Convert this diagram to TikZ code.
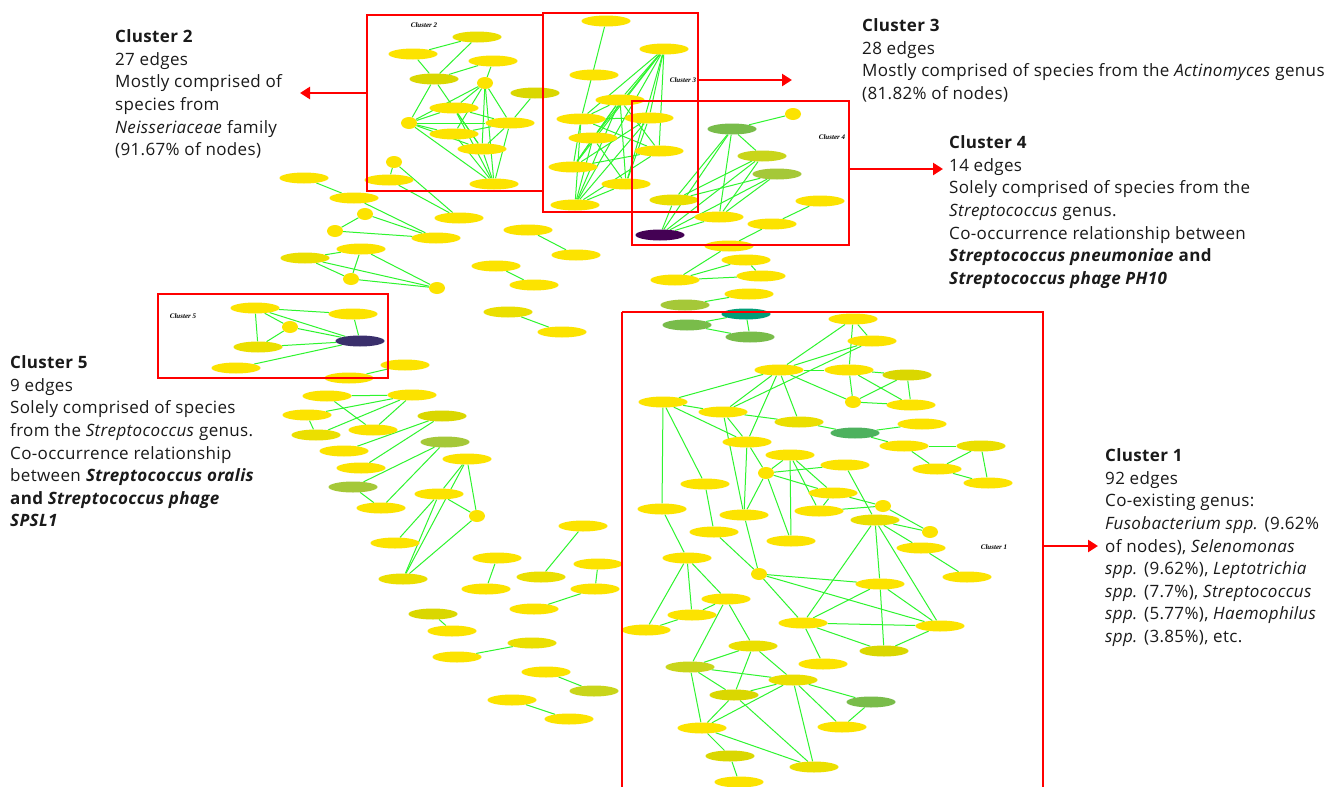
\documentclass[tikz,border=0pt]{standalone}
\usepackage{fontspec}
\setmainfont{Open Sans}[LetterSpace=2]
\newfontfamily\tnr{Liberation Serif}
\usetikzlibrary{shapes.geometric,arrows.meta}
\definecolor{Y1}{HTML}{FCE300}
\definecolor{Y2}{HTML}{EBDF00}
\definecolor{Y3}{HTML}{DAD700}
\definecolor{Y4}{HTML}{C9D51A}
\definecolor{G1}{HTML}{A5C838}
\definecolor{G2}{HTML}{79BC4A}
\definecolor{G3}{HTML}{4DB15E}
\definecolor{TEAL}{HTML}{009E78}
\definecolor{NAVY}{HTML}{3A2F6C}
\definecolor{PURP}{HTML}{440154}
\definecolor{EG}{HTML}{2EF52E}
\definecolor{TX}{HTML}{1A1A1A}
\pgfdeclarelayer{bg}
\pgfsetlayers{bg,main}
\begin{document}
\begin{tikzpicture}[x=1pt,y=-1pt,
  n/.style={ellipse,inner sep=0pt,minimum width=49pt,minimum height=11pt,fill=Y1},
  dt/.style={ellipse,inner sep=0pt,minimum width=16pt,minimum height=12pt,fill=Y1},
  ed/.style={draw=EG,line width=1pt},
  cbox/.style={draw=red,line width=2.3pt},
  rarr/.style={draw=red,line width=2.8pt,-{Triangle[length=10pt,width=12pt]}},
  txt/.style={align=left,inner sep=0pt,anchor=north west,text=TX,font=\fontsize{17}{22.6}\selectfont},
  clab/.style={inner sep=0pt,font=\tnr\bfseries\itshape\fontsize{7}{8}\selectfont}]
\useasboundingbox (0,0) rectangle (1344,787);

% ---- cluster 2 ----
\node[n,fill=Y2] (k2A) at (477,37) {};
\node[n] (k2B) at (413,54) {};
\node[n] (k2C) at (493,61) {};
\node[n,fill=Y3] (k2D) at (434,79) {};
\node[dt] (k2E) at (485,83) {};
\node[n,fill=Y3] (k2F) at (535,93) {};
\node[n] (k2G) at (454,108) {};
\node[dt] (k2H) at (409,123) {};
\node[n] (k2I) at (510,123) {};
\node[n] (k2J) at (454,134) {};
\node[n] (k2K) at (482,149) {};
\node[n] (k2L) at (494,184) {};
% ---- upper left loose ----
\node[dt] (m) at (394,162) {};
\node[n] (nn) at (389,180) {};
\node[n] (o) at (304,178) {};
\node[n] (p) at (354,198) {};
\node[n] (q) at (459,218) {};
\node[dt] (r) at (365,214) {};
\node[dt] (s) at (335,231) {};
\node[n] (t) at (436,238) {};
\node[n] (u) at (528,230) {};
\node[n] (v) at (576,255) {};
\node[n] (w) at (361,249) {};
\node[n,fill=Y2] (xx) at (305,258) {};
\node[dt] (yy) at (351,279) {};
\node[dt] (zz) at (437,288) {};
\node[n] (aa) at (496,266) {};
\node[n] (ab) at (534,285) {};
\node[n,fill=Y2] (ac) at (508,312) {};
\node[n] (ad) at (562,332) {};
% ---- cluster 3 ----
\node[n] (ta) at (606,21) {};
\node[n] (tb) at (664,49) {};
\node[n] (tc) at (594,75) {};
\node[n] (td) at (620,100) {};
\node[n] (te) at (581,119) {};
\node[n] (tf) at (649,118) {};
\node[n] (tg) at (593,138) {};
\node[n] (th) at (659,151) {};
\node[n] (ti) at (573,167) {};
\node[n] (tj) at (626,184) {};
\node[n] (tk) at (575,205) {};
% ---- cluster 4 ----
\node[dt] (ua) at (793,114) {};
\node[n,fill=G2] (ub) at (732,129) {};
\node[n,fill=Y4] (uc) at (762,156) {};
\node[n,fill=G1] (ud) at (777,174) {};
\node[n] (ue) at (820,201) {};
\node[n,fill=Y2] (uf) at (674,200) {};
\node[n] (ug) at (719,217) {};
\node[n] (uh) at (772,224) {};
\node[n,fill=PURP] (ui) at (660,235) {};
% ---- middle ----
\node[n] (n1) at (729,246) {};
\node[n] (n2) at (746,260) {};
\node[n] (n3) at (675,280) {};
\node[n] (n4) at (761,276) {};
\node[n] (n5) at (749,294) {};
\node[n,fill=G1] (n6) at (685,305) {};
\node[n,fill=TEAL] (n7) at (746,314) {};
\node[n,fill=G2] (n8) at (687,325) {};
\node[n,fill=G2] (n9) at (750,337) {};
% ---- cluster 5 ----
\node[n] (c5a) at (255,308) {};
\node[n] (c5b) at (353,314) {};
\node[dt] (c5c) at (290,327) {};
\node[n,fill=Y2] (c5d) at (258,347) {};
\node[n,fill=NAVY] (c5e) at (360,341) {};
\node[n] (c5f) at (236,368) {};
\node[n] (q1) at (405,365) {};
\node[n] (q2) at (349,378) {};
% ---- lower left ----
\node[n] (d1) at (327,396) {};
\node[n] (d2) at (412,395) {};
\node[n] (d3) at (307,415) {};
\node[n,fill=Y3] (d4) at (442,416) {};
\node[n,fill=Y2] (d5) at (316,435) {};
\node[n] (d6) at (373,430) {};
\node[n,fill=G1] (d7) at (445,442) {};
\node[n] (d8) at (344,451) {};
\node[n] (d9) at (467,459) {};
\node[n] (d10) at (361,468) {};
\node[n] (d11) at (439,494) {};
\node[n,fill=G1] (d12) at (353,487) {};
\node[dt] (d13) at (477,516) {};
\node[n] (d14) at (381,508) {};
\node[n] (d15) at (395,543) {};
\node[n,fill=Y2] (d16) at (403,579) {};
\node[n] (e1) at (583,526) {};
\node[n] (e2) at (497,558) {};
\node[n] (e3) at (598,564) {};
\node[n,fill=Y2] (e4) at (541,577) {};
\node[n] (e5) at (486,589) {};
\node[n] (e6) at (595,589) {};
\node[n] (e7) at (534,609) {};
\node[n,fill=Y3] (e8) at (433,614) {};
\node[n] (e9) at (452,631) {};
\node[n,fill=Y2] (e10) at (532,643) {};
\node[n] (e11) at (457,657) {};
\node[n] (e12) at (546,672) {};
\node[n,fill=Y4] (e13) at (594,691) {};
\node[n] (e14) at (512,700) {};
\node[n] (e15) at (569,719) {};
% ---- cluster 1 ----
\node[n] (a1) at (853,319) {};
\node[n] (a2) at (872,341) {};
\node[n] (a3) at (779,370) {};
\node[n] (a4) at (849,370) {};
\node[n,fill=Y3] (a5) at (907,375) {};
\node[dt] (a6) at (853,402) {};
\node[n] (a7) at (911,405) {};
\node[n] (a8) at (663,402) {};
\node[n] (a9) at (723,412) {};
\node[n,fill=Y2] (a10) at (799,422) {};
\node[n,fill=G3] (a11) at (855,433) {};
\node[n] (a12) at (922,424) {};
\node[n] (a13) at (747,442) {};
\node[n] (a14) at (904,446) {};
\node[n,fill=Y2] (a15) at (981,446) {};
\node[n] (a16) at (790,455) {};
\node[n] (a17) at (845,465) {};
\node[dt] (a18) at (766,473) {};
\node[n] (a19) at (937,469) {};
\node[n] (a20) at (988,483) {};
\node[n] (a21) at (705,484) {};
\node[n] (a22) at (833,493) {};
\node[dt] (b1) at (883,506) {};
\node[n] (b2) at (819,511) {};
\node[n,fill=Y2] (b3) at (875,520) {};
\node[n] (b4) at (662,509) {};
\node[n] (b5) at (744,515) {};
\node[dt] (b6) at (930,532) {};
\node[n] (b7) at (714,532) {};
\node[n] (b8) at (791,541) {};
\node[n] (b9) at (921,548) {};
\node[n] (b10) at (967,577) {};
\node[n] (b11) at (687,558) {};
\node[dt] (b12) at (759,574) {};
\node[n] (b13) at (880,584) {};
\node[n] (b14) at (726,599) {};
\node[n] (b15) at (692,615) {};
\node[n] (b16) at (646,630) {};
\node[n] (b17) at (803,623) {};
\node[n] (b18) at (940,626) {};
\node[n,fill=Y3] (b19) at (884,651) {};
\node[n,fill=Y2] (b20) at (753,646) {};
\node[n] (b21) at (823,664) {};
\node[n,fill=Y4] (b22) at (690,667) {};
\node[n,fill=Y2] (b23) at (793,680) {};
\node[n,fill=Y3] (b24) at (734,695) {};
\node[n,fill=G2] (b25) at (871,702) {};
\node[n] (b26) at (842,727) {};
\node[n] (b27) at (702,728) {};
\node[n,fill=Y3] (b28) at (730,756) {};
\node[n,fill=Y2] (b29) at (814,767) {};
\node[n] (b30) at (739,782) {};

\begin{pgfonlayer}{bg}
\fill[white] (0,0) rectangle (1344,787);
\foreach \u/\v in {k2B/k2A,k2A/k2D,k2D/k2C,k2B/k2D,k2C/k2E,k2D/k2H,k2D/k2K,k2E/k2H,k2E/k2G,k2E/k2J,k2E/k2I,k2E/k2K,k2E/k2L,k2H/k2G,k2H/k2I,k2H/k2J,k2H/k2L,k2H/k2K,k2G/k2I,k2G/k2K,k2G/k2L,k2J/k2I,k2J/k2L,k2I/k2K,k2I/k2L,k2K/k2L,k2F/k2I,
 m/nn,m/q,nn/q,o/p,p/t,r/s,r/t,s/t,u/v,w/xx,w/yy,w/zz,xx/yy,xx/zz,yy/zz,aa/ab,ac/ad,
 ta/te,tb/td,tb/te,tb/tg,tb/ti,tb/tk,tb/tj,tb/th,tb/tf,td/te,td/tg,td/ti,td/tk,td/tj,td/th,te/tf,te/tk,te/th,te/ti,tf/tk,tf/ti,tf/tj,tg/tk,tg/tj,tg/ti,th/tk,th/ti,tj/tk,
 ua/ub,ub/uc,ub/ui,ub/uf,ub/ug,uc/ui,uc/uf,uc/ug,ud/ui,ud/uf,ud/ug,uf/ui,ug/ui,ue/uh,
 uh/n1,n1/n3,n2/n3,n2/n4,n3/n4,n5/n6,n7/n8,n7/n9,n8/n9,
 c5a/c5b,c5a/c5d,c5a/c5c,c5a/c5e,c5c/c5d,c5c/c5e,c5b/c5e,c5d/c5e,c5f/c5e,q1/q2,
 d1/d2,d1/d6,d3/d2,d3/d5,d5/d2,d6/d2,d8/d4,d10/d4,d12/d7,d14/d7,d12/d14,d9/d11,d9/d13,d9/d16,d11/d15,d11/d16,d11/d13,d13/d16,
 e1/e4,e2/e5,e3/e6,e6/e7,e8/e9,e10/e11,e12/e13,e14/e15,
 a1/a3,a1/a2,a1/a4,a2/a3,a2/a9,a3/a4,a3/a8,a3/a9,a3/a13,a3/a10,a3/a6,a4/a5,a4/a7,a4/a6,a5/a6,a5/a7,a6/a7,a8/a9,a8/a13,a8/b4,a8/a21,a9/a10,a9/a13,a9/b5,a10/a11,a11/a12,a11/a14,a13/a18,a13/b5,a14/a15,a14/a19,a15/a19,a15/a20,a19/a20,a16/a18,a16/b8,a16/b2,a16/a22,a18/a17,a18/a22,a18/b5,a18/b8,a17/b3,a21/b7,
 a22/b1,b2/b1,b2/a22,b1/b6,b3/b6,b3/b9,b9/b10,b3/b17,b3/b13,b3/b18,b4/b11,b7/b12,b5/b12,b12/b13,b12/b18,b12/b17,b13/b17,b13/b19,b13/b18,b17/b18,b17/b19,b19/b18,b17/b21,b11/b16,b11/b15,b11/b14,b16/b15,b15/b14,b14/b22,b14/b20,b22/b20,b22/b23,b22/b24,b22/b27,b20/b24,b20/b23,b24/b23,b23/b27,b24/b27,b24/b29,b23/b29,b23/b26,b23/b25,b25/b26,b27/b29,b27/b28,b28/b30}
  \draw[ed] (\u) -- (\v);
\end{pgfonlayer}

% ---- boxes ----
\draw[cbox] (367,15) rectangle (543,191);
\draw[cbox] (543,13) rectangle (698,212);
\draw[cbox] (632,101) rectangle (849,245);
\draw[cbox] (158,294) rectangle (388,378);
\draw[cbox] (622,312) -- (622,792) (622,312) -- (1043,312) -- (1043,792);
\node[clab] (l2) at (424,25) {Cluster 2};
\node[clab] (l3) at (683,80) {Cluster 3};
\node[clab] (l4) at (832,137) {Cluster 4};
\node[clab] (l5) at (183,316) {Cluster 5};
\node[clab] (l1) at (994,547) {Cluster 1};

% ---- arrows ----
\coordinate (s2) at (367,93); \coordinate (t2) at (300,93);
\coordinate (s3) at (698,80); \coordinate (t3) at (792,80);
\coordinate (s4) at (849,169); \coordinate (t4) at (943,169);
\coordinate (s1) at (1043,546); \coordinate (t1) at (1098,546);
\draw[rarr] (s2) -- (t2);
\draw[rarr] (s3) -- (t3);
\draw[rarr] (s4) -- (t4);
\draw[rarr] (s1) -- (t1);

% ---- texts ----
\node[txt] (T2) at (115,29.5) {\textbf{Cluster 2}\\27 edges\\Mostly comprised of\\species from\\\textit{Neisseriaceae} family\\(91.67\% of nodes)};
\node[txt] (T3) at (862,18.5) {\textbf{Cluster 3}\\28 edges\\Mostly comprised of species from the \textit{Actinomyces} genus\\(81.82\% of nodes)};
\node[txt] (T4) at (949,135.5) {\textbf{Cluster 4}\\14 edges\\Solely comprised of species from the\\\textit{Streptococcus} genus.\\Co-occurrence relationship between\\\textbf{\textit{Streptococcus pneumoniae} and}\\\textbf{\textit{Streptococcus phage PH10}}};
\node[txt] (T5) at (10,355.5) {\textbf{Cluster 5}\\9 edges\\Solely comprised of species\\from the \textit{Streptococcus} genus.\\Co-occurrence relationship\\between \textbf{\textit{Streptococcus oralis}}\\\textbf{and \textit{Streptococcus phage}}\\\textbf{\textit{SPSL1}}};
\node[txt] (T1) at (1105,448.5) {\textbf{Cluster 1}\\92 edges\\Co-existing genus:\\\textit{Fusobacterium spp.} (9.62\%\\of nodes), \textit{Selenomonas}\\\textit{spp.} (9.62\%), \textit{Leptotrichia}\\\textit{spp.} (7.7\%), \textit{Streptococcus}\\\textit{spp.} (5.77\%), \textit{Haemophilus}\\\textit{spp.} (3.85\%), etc.};
\end{tikzpicture}
\end{document}
